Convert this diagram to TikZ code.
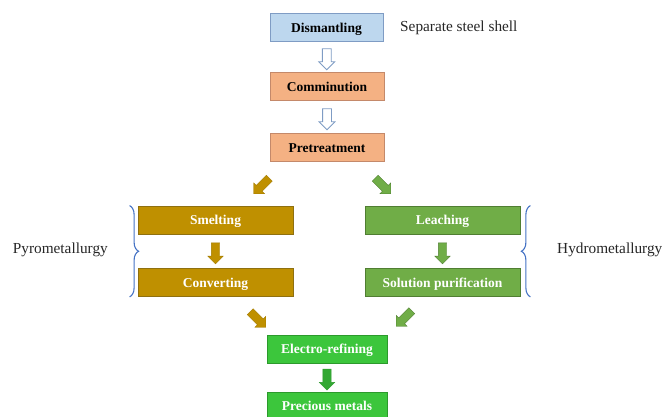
\documentclass[tikz,border=0pt]{standalone}
\usepackage{fontspec}
\setmainfont{Liberation Serif}
\usetikzlibrary{shapes.arrows,decorations.pathreplacing,calc}
\definecolor{blueF}{HTML}{BDD7EE}
\definecolor{blueD}{HTML}{7F9CC4}
\definecolor{orangeF}{HTML}{F4B183}
\definecolor{orangeD}{HTML}{C4896A}
\definecolor{goldF}{HTML}{BF9000}
\definecolor{goldD}{HTML}{8F7010}
\definecolor{leafF}{HTML}{70AD47}
\definecolor{leafD}{HTML}{507E32}
\definecolor{limeF}{HTML}{3CC63C}
\definecolor{limeD}{HTML}{2C9A2C}
\definecolor{braceC}{HTML}{4472C4}
\tikzset{
  box/.style={draw, line width=0.8pt, minimum height=28pt, inner sep=0pt,
    text height=9.5pt, text depth=0pt,
    font=\fontsize{13.5}{15}\selectfont\bfseries},
  bluebox/.style={box, fill=blueF, draw=blueD, minimum width=113pt, text=black},
  orangebox/.style={box, fill=orangeF, draw=orangeD, minimum width=114pt, text=black},
  goldbox/.style={box, fill=goldF, draw=goldD, minimum width=155pt, text=white},
  leafbox/.style={box, fill=leafF, draw=leafD, minimum width=155pt, text=white},
  limebox/.style={box, fill=limeF, draw=limeD, minimum width=120pt, text=white},
  barrow/.style={single arrow, inner xsep=0pt, inner ysep=4pt, minimum height=21pt,
    minimum width=0pt, text width=0pt, text height=0pt, text depth=0pt,
    single arrow head extend=3.5pt, single arrow head indent=0pt, line width=0.8pt},
  hollowarrow/.style={barrow, fill=white, draw=blueD},
  goldarrow/.style={barrow, fill=goldF, draw=goldF!85!black, line width=0.4pt},
  leafarrow/.style={barrow, fill=leafF, draw=leafD, line width=0.4pt},
  limearrow/.style={barrow, fill=limeF!85!black, draw=limeD, line width=0.4pt},
  side/.style={font=\fontsize{15.3}{17}\selectfont, text=black!85, inner sep=0pt},
  bracket/.style={draw=braceC, line width=1.1pt,
    decorate, decoration={brace, amplitude=9pt}}
}
\begin{document}
\begin{tikzpicture}[x=1pt,y=-1pt]
\useasboundingbox (0,0) rectangle (662,416);
\clip (0,0) rectangle (662,416);
% boxes
\node[bluebox] (dis) at (326.5,27.5) {Dismantling};
\node[orangebox] (com) at (327,86.5) {Comminution};
\node[orangebox] (pre) at (327,147.5) {Pretreatment};
\node[goldbox] (sme) at (215.5,220) {Smelting};
\node[goldbox] (con) at (215.5,282.5) {Converting};
\node[leafbox] (lea) at (442.5,220) {Leaching};
\node[leafbox] (sol) at (442.5,282.5) {Solution purification};
\node[limebox] (ele) at (327,349) {Electro-refining};
\node[limebox] (pm) at (327,406) {Precious metals};
% side texts
\node[side, anchor=west] (sep) at (400,27.5) {Separate steel shell};
\node[side, anchor=east] (pyro) at (108,250) {Pyrometallurgy};
\node[side, anchor=west] (hydro) at (557,250) {Hydrometallurgy};
% block arrows
\node[hollowarrow, rotate=-90] (a1) at ($(dis.south)!0.5!(com.north)$) {};
\node[hollowarrow, rotate=-90] (a2) at ($(com.south)!0.5!(pre.north)$) {};
\node[goldarrow, rotate=-135, minimum height=22pt] (a3) at (263,184.5) {};
\node[leafarrow, rotate=-45, minimum height=22pt] (a4) at (381.5,184.5) {};
\node[goldarrow, rotate=-90] (a5) at ($(sme.south)!0.5!(con.north)$) {};
\node[leafarrow, rotate=-90] (a6) at ($(lea.south)!0.5!(sol.north)$) {};
\node[goldarrow, rotate=-45, minimum height=22pt] (a7) at (256.5,318) {};
\node[leafarrow, rotate=-135, minimum height=22pt] (a8) at (405.5,317) {};
\node[limearrow, rotate=-90] (a9) at ($(ele.south)!0.5!(pm.north)$) {};
% braces
\coordinate (lb1) at ([xshift=-8pt]con.south west);
\coordinate (lt1) at ([xshift=-8pt]sme.north west);
\draw[bracket] (lt1) -- (lb1);
\coordinate (rb1) at ([xshift=10pt]sol.south east);
\coordinate (rt1) at ([xshift=10pt]lea.north east);
\draw[bracket] (rb1) -- (rt1);
\end{tikzpicture}
\end{document}
